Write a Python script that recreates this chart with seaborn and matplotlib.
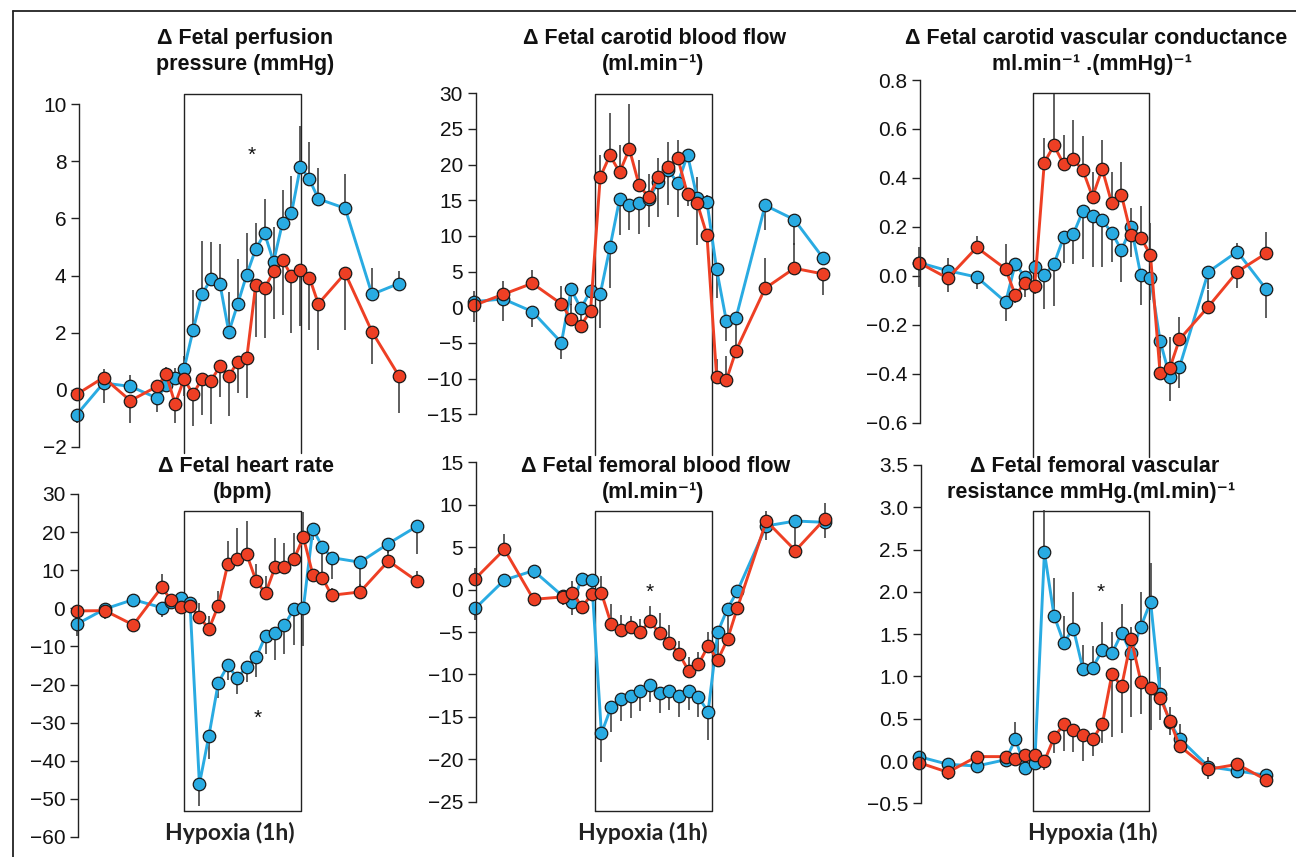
import matplotlib
matplotlib.use("Agg")
import matplotlib.pyplot as plt
import pandas as pd
import seaborn as sns
from matplotlib.lines import Line2D
from matplotlib.ticker import FuncFormatter

# sampling times (min), hypoxia starts at 0
time_min = [-60, -45, -30, -15, -10, -5, 0, 5, 10, 15, 20, 25, 30, 35, 40,
            45, 50, 55, 60, 65, 70, 75, 90, 105, 120]

# perfusion pressure (mmHg); errors are signed: + drawn up, - drawn down
perf_blue = [-0.87, 0.24, 0.12, -0.29, 0.17, 0.43, 0.73, 2.08, 3.34, 3.87, 3.72, 2.02, 3.01,
             4.03, 4.92, 5.47, 4.48, 5.85, 6.18, 7.81, 7.37, 6.68, 6.35, 3.34, 3.72]
perf_red = [-0.16, 0.43, -0.38, 0.12, 0.54, -0.49, 0.38, -0.15, 0.38, 0.32, 0.82, 0.49, 0.98,
            1.10, 3.66, 3.55, 4.14, 4.54, 3.99, 4.20, 3.93, 3.01, 4.08, 2.03, 0.49]
perf_blue_err = [-0.3, -0.7, 0.4, -0.47, -0.15, 0.33, 0.46, 1.4, 1.85, 1.3, 1.39, 1.4, 1.56,
                 1.45, 0.93, 1.2, 1.2, 1.15, 1.3, 1.42, 1.3, 1.07, 1.2, 0.93, 0.45]
perf_red_err = [0.2, 0.3, -0.78, 0.1, 0.25, -0.67, -0.6, -1.1, -1.25, -1.5, -1.07, -1.4, -1.1,
                -1.4, -1.8, -1.75, -1.66, -1.93, -2.0, -1.96, -1.84, -1.6, -1.97, -1.12, -1.3]

# carotid blood flow (ml/min)
car_blue = [0.8, 1.17, -0.6, -4.95, 2.5, -0.14, 2.29, 1.87, 8.4, 15.2, 14.3, 14.6, 15.2,
            17.6, 19.25, 17.4, 21.35, 15.3, 14.8, 5.3, -1.9, -1.45, 14.3, 12.3, 6.87]
car_red = [0.28, 1.82, 3.36, 0.47, -1.68, -2.57, -0.51, 18.27, 21.3, 18.93, 22.2, 17.15, 15.42,
           18.27, 19.72, 20.9, 15.84, 14.58, 10.14, -9.77, -10.23, -6.07, 2.66, 5.47, 4.67]
car_blue_err = [1.5, -3.1, -2.1, -2.35, -2.2, -1.2, -1.4, -4.8, -5.7, -5.0, -3.5, -4.3, -4.0,
                -4.9, -4.9, -4.7, 0.5, 3.0, 1.0, -4.0, -2.8, -2.3, -3.5, -3.5, 0.5]
car_red_err = [-2.4, 1.8, 1.85, 2.5, 2.2, 1.2, 1.4, 3.1, 5.9, 3.8, 6.3, 3.5, 3.3,
               2.7, 3.5, 2.6, -1.6, -5.9, -1.0, 2.5, 3.4, 2.3, 4.2, 3.5, -2.9]

# carotid vascular conductance
cvc_blue = [0.054, 0.021, -0.005, -0.107, 0.05, -0.006, 0.035, 0.003, 0.048, 0.157, 0.17, 0.265,
            0.246, 0.227, 0.176, 0.105, 0.2, 0.003, -0.01, -0.265, -0.412, -0.374, 0.016, 0.099, -0.055]
cvc_red = [0.054, -0.01, 0.116, 0.028, -0.08, -0.028, -0.043, 0.462, 0.533, 0.457, 0.476, 0.431,
           0.323, 0.436, 0.296, 0.329, 0.168, 0.156, 0.086, -0.398, -0.378, -0.26, -0.126, 0.017, 0.092]
cvc_blue_err = [-0.1, 0.05, -0.05, -0.076, 0.02, 0.02, 0.03, -0.14, -0.17, -0.106, -0.122, -0.196,
                -0.21, -0.19, -0.12, -0.13, 0.076, -0.123, -0.09, -0.07, -0.1, -0.086, -0.07, 0.036, -0.116]
cvc_red_err = [0.065, -0.055, 0.048, 0.1, -0.03, -0.06, -0.03, 0.1, 0.21, 0.12, 0.16, 0.14,
               0.1, 0.12, 0.13, 0.137, -0.09, 0.13, 0.128, 0.07, 0.13, 0.093, 0.07, -0.068, 0.088]

# heart rate (bpm)
hr_blue = [-4.18, -0.16, 2.29, 0.19, 1.76, 2.64, 1.5, -46.1, -33.5, -19.5, -15.0, -18.25, -15.4,
           -12.9, -7.2, -6.4, -4.35, -0.24, 0.1, 20.8, 16.2, 13.3, 12.1, 17.0, 21.5]
hr_red = [-0.68, -0.6, -4.35, 5.52, 2.2, 0.28, 0.63, -2.17, -5.49, 0.72, 11.64, 12.87, 14.2,
          7.2, 3.95, 10.77, 10.86, 12.87, 18.64, 8.85, 7.97, 3.43, 4.3, 12.43, 7.2]
hr_blue_err = [-3.2, -2.6, -1.8, -2.5, -1.0, 1.0, 0.8, -5.7, -6.1, -4.1, -3.8, -4.3, -3.8,
               -5.0, -4.8, -7.1, -7.6, -9.4, -10.1, -3.0, -8.0, -5.5, -6.8, -2.5, -7.2]
hr_red_err = [0.5, 0.5, 1.0, 3.5, 1.0, -1.0, -0.8, 3.7, 3.5, 3.7, 5.9, 8.1, 8.7,
              4.4, 4.6, 7.6, 6.4, 7.0, 6.7, 1.5, 1.5, 2.0, 2.0, 2.9, 2.7]

# femoral blood flow (ml/min)
fem_blue = [-2.21, 1.13, 2.23, -0.76, -1.5, 1.29, 1.13, -16.94, -13.88, -12.94, -12.54, -11.95,
            -11.25, -12.15, -11.95, -12.54, -11.95, -12.7, -14.39, -5.0, -2.25, -0.21, 7.5, 8.08, 7.93]
fem_red = [1.29, 4.74, -1.15, -0.87, -0.36, -2.05, -0.56, -0.4, -4.02, -4.8, -4.41, -5.0,
           -3.74, -5.16, -6.26, -7.55, -9.6, -8.81, -6.65, -8.3, -5.86, -2.21, 8.08, 4.59, 8.28]
fem_blue_err = [-1.4, -0.8, -1.0, -0.3, -1.5, 0.5, 0.5, -3.4, -2.9, -2.5, -2.6, -2.4,
                -2.05, -2.35, -2.25, -2.45, -2.25, -2.3, -3.3, -1.7, -1.8, 0.4, -1.65, -2.5, -1.8]
fem_red_err = [1.2, 1.8, 0.8, -1.0, 1.4, -0.5, -0.5, 2.0, 2.3, 1.8, 1.3, 1.5,
               1.8, 2.4, 2.1, 1.45, 1.6, 1.5, 1.7, 1.7, 1.8, -0.5, 1.2, 1.0, 1.9]

# femoral vascular resistance
fvr_blue = [0.052, -0.039, -0.059, 0.016, 0.257, -0.078, -0.027, 2.467, 1.719, 1.4, 1.565, 1.084,
            1.104, 1.309, 1.273, 1.51, 1.273, 1.589, 1.884, 0.789, 0.458, 0.265, -0.067, -0.118, -0.169]
fvr_red = [-0.019, -0.133, 0.052, 0.052, 0.028, 0.071, 0.071, -0.003, 0.28, 0.434, 0.367, 0.308,
           0.257, 0.438, 1.029, 0.883, 1.439, 0.938, 0.867, 0.749, 0.477, 0.178, -0.098, -0.039, -0.224]
fvr_blue_err = [0.05, 0.03, -0.03, -0.03, 0.2, -0.03, -0.05, 0.5, 0.44, 0.32, 0.43, 0.29,
                0.25, 0.34, 0.25, 0.35, -0.75, 0.41, 0.46, 0.32, 0.18, 0.17, 0.12, 0.04, 0.02]
fvr_red_err = [-0.05, -0.09, 0.03, 0.03, 0.03, 0.03, 0.03, -0.1, -0.19, -0.32, -0.26, -0.31,
               -0.2, -0.23, -0.74, -0.55, 0.15, -0.38, -0.5, -0.26, -0.17, -0.04, -0.12, -0.04, -0.08]

BLUE = "#29abe2"
RED = "#ee3f24"
W, H = 1296, 857

sns.set_theme(style="ticks")
plt.rcParams["font.family"] = ["Liberation Sans", "DejaVu Sans"]

fig = plt.figure(figsize=(W / 100, H / 100), dpi=100)

# layout in pixels: spine x, px per minute, x left limit, y top px, y bottom px
panels = [
    dict(blue=perf_blue, red=perf_red, be=perf_blue_err, re=perf_red_err,
         ticks=[-2, 0, 2, 4, 6, 8, 10], fmt="%.0f", px=(79, 1.79, -58.7, 104, 447),
         box=(0.1, 65.4, -2.2, 10.35, False),
         title=("Δ Fetal perfusion", "pressure (mmHg)"), tx=(245, 245), ty=44, star=(38, 8.2)),
    dict(blue=car_blue, red=car_red, be=car_blue_err, re=car_red_err,
         ticks=[-15, -10, -5, 0, 5, 10, 15, 20, 25, 30], fmt="%.0f", px=(475.5, 1.94, -59.3, 93.3, 414.3),
         box=(2.2, 62.7, -20.7, 29.86, False),
         title=("Δ Fetal carotid blood flow", "(ml.min\u207b\u00b9)"), tx=(655, 653), ty=44, star=None),
    dict(blue=cvc_blue, red=cvc_red, be=cvc_blue_err, re=cvc_red_err,
         ticks=[-0.6, -0.4, -0.2, 0.0, 0.2, 0.4, 0.6, 0.8], fmt="%.1f", px=(920, 1.93, -59.4, 80, 422.7),
         box=(-1.0, 59.4, -0.74, 0.746, False),
         title=("Δ Fetal carotid vascular conductance", "ml.min\u207b\u00b9 .(mmHg)\u207b\u00b9"),
         tx=(1096, 1092), ty=44, star=None),
    dict(blue=hr_blue, red=hr_red, be=hr_blue_err, re=hr_red_err,
         ticks=[-60, -50, -40, -30, -20, -10, 0, 10, 20, 30], fmt="%.0f", px=(77.7, 1.89, -59.4, 494, 837),
         box=(-3.0, 58.9, -53.2, 25.5, True),
         title=("Δ Fetal heart rate", "(bpm)"), tx=(246, 243), ty=472, star=(36, -28.8), hyp=230),
    dict(blue=fem_blue, red=fem_red, be=fem_blue_err, re=fem_red_err,
         ticks=[-25, -20, -15, -10, -5, 0, 5, 10, 15], fmt="%.0f", px=(475.7, 1.94, -59.8, 462.3, 801.7),
         box=(1.5, 61.8, -26.1, 9.26, True),
         title=("Δ Fetal femoral blood flow", "(ml.min\u207b\u00b9)"), tx=(656, 653), ty=472,
         star=(30, -0.3), hyp=643),
    dict(blue=fvr_blue, red=fvr_red, be=fvr_blue_err, re=fvr_red_err,
         ticks=[-0.5, 0.0, 0.5, 1.0, 1.5, 2.0, 2.5, 3.0, 3.5], fmt="%.1f", px=(920.7, 1.93, -59.1, 465, 803.3),
         box=(-1.0, 59.4, -0.59, 2.956, True),
         title=("Δ Fetal femoral vascular", "resistance mmHg.(ml.min)\u207b\u00b9"), tx=(1095, 1091), ty=472,
         star=(34, 2.0), hyp=1093),
]

for p in panels:
    x0, ppm, xl, ytop, ybot = p["px"]
    xr = 130
    ax = fig.add_axes([x0 / W, 1 - ybot / H, (xr - xl) * ppm / W, (ybot - ytop) / H])
    ax.patch.set_visible(False)

    df = pd.DataFrame({
        "t": time_min * 2,
        "value": p["blue"] + p["red"],
        "group": ["blue"] * len(time_min) + ["red"] * len(time_min),
    })
    err = p["be"] + p["re"]
    lo = [v + min(e, 0) for v, e in zip(df["value"], err)]
    hi = [v + max(e, 0) for v, e in zip(df["value"], err)]
    ax.vlines(df["t"], lo, hi, colors="#333333", linewidth=1.1, zorder=1.5, clip_on=False)

    sns.lineplot(data=df, x="t", y="value", hue="group", hue_order=["blue", "red"],
                 palette=[BLUE, RED], marker="o", markersize=9, markeredgecolor="#1a1a1a",
                 markeredgewidth=0.9, linewidth=2.1, legend=False, estimator=None,
                 sort=False, ax=ax, clip_on=False)

    bx0, bx1, by0, by1, closed = p["box"]
    if closed:
        ax.plot([bx0, bx0, bx1, bx1, bx0], [by0, by1, by1, by0, by0], color="#222222",
                lw=1.0, clip_on=False, zorder=1)
    else:
        ax.plot([bx0, bx0, bx1, bx1], [by0, by1, by1, by0], color="#222222",
                lw=1.0, clip_on=False, zorder=1)

    if p["star"] is not None:
        ax.text(p["star"][0], p["star"][1], "*", ha="center", va="center", fontsize=15,
                color="#111111")

    ticks = p["ticks"]
    fmt = p["fmt"]
    ax.set_xlim(xl, xr)
    ax.set_ylim(ticks[0], ticks[-1])
    ax.set_yticks(ticks)
    ax.yaxis.set_major_formatter(FuncFormatter(
        lambda v, _, f=fmt: (f % (v + 0.0)).replace("-", "\u2212")
        if abs(v) > 1e-9 else f % 0.0))
    ax.set_xticks([])
    ax.set_xlabel("")
    ax.set_ylabel("")
    sns.despine(ax=ax, bottom=True)
    ax.spines["left"].set_bounds(ticks[0], ticks[-1])
    ax.spines["left"].set_linewidth(1.0)
    ax.spines["left"].set_color("#222222")
    ax.tick_params(axis="y", direction="out", length=6, width=1.0, color="#222222",
                   labelsize=15, pad=3, labelcolor="#111111")

    # panel title, two lines
    fig.text(p["tx"][0] / W, 1 - p["ty"] / H, p["title"][0], ha="center", va="baseline",
             fontsize=15.5, fontweight="bold", color="#111111")
    fig.text(p["tx"][1] / W, 1 - (p["ty"] + 26) / H, p["title"][1], ha="center", va="baseline",
             fontsize=15.5, fontweight="bold", color="#111111")

    if "hyp" in p:
        fig.text(p["hyp"] / W, 1 - 840 / H, "Hypoxia (1h)", ha="center", va="baseline",
                 fontsize=16.5, fontweight="bold", color="#222222",
                 family=["Lato", "DejaVu Sans"])

# outer frame (left and top edges)
fig.add_artist(Line2D([12.5 / W, 12.5 / W], [0, 1 - 10.5 / H], transform=fig.transFigure,
                      color="#222222", lw=1.3))
fig.add_artist(Line2D([12.5 / W, 1], [1 - 10.5 / H, 1 - 10.5 / H], transform=fig.transFigure,
                      color="#222222", lw=1.3))

fig.savefig("out.png", dpi=100)
